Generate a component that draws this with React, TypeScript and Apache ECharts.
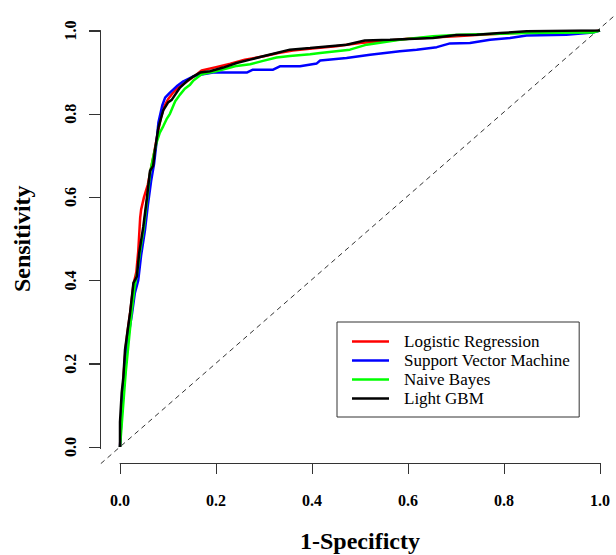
import React, { useEffect, useRef } from "react";
import * as echarts from "echarts";

const seriesNames = ["Logistic Regression", "Support Vector Machine", "Naive Bayes", "Light GBM"];
const seriesColors = ["#ff0000", "#0000ff", "#00ff00", "#000000"];
const tickValues = [0, 0.2, 0.4, 0.6, 0.8, 1.0];
const xTitle = "1-Specificty";
const yTitle = "Sensitivity";

const lrPoints: number[][] = [
  [0, 0], [0.004, 0.1], [0.008, 0.18], [0.012, 0.24], [0.016, 0.28], [0.022, 0.33], [0.028, 0.39],
  [0.034, 0.42], [0.038, 0.47], [0.042, 0.55], [0.044, 0.57], [0.05, 0.6], [0.058, 0.63], [0.063, 0.66],
  [0.07, 0.7], [0.078, 0.75], [0.085, 0.79], [0.093, 0.82], [0.1, 0.835], [0.11, 0.85], [0.118, 0.86],
  [0.13, 0.87], [0.14, 0.878], [0.155, 0.89], [0.17, 0.904], [0.2, 0.912], [0.23, 0.92], [0.26, 0.93],
  [0.3, 0.938], [0.33, 0.946], [0.36, 0.952], [0.4, 0.957], [0.45, 0.962], [0.5, 0.97], [0.55, 0.975],
  [0.6, 0.98], [0.65, 0.983], [0.7, 0.986], [0.75, 0.99], [0.8, 0.993], [0.85, 0.995], [0.9, 0.996],
  [0.95, 0.998], [0.99, 0.998], [1, 1],
];

const svmPoints: number[][] = [
  [0, 0], [0.002, 0.05], [0.006, 0.12], [0.01, 0.17], [0.014, 0.23], [0.018, 0.27], [0.025, 0.32],
  [0.031, 0.37], [0.038, 0.4], [0.044, 0.46], [0.052, 0.52], [0.058, 0.58], [0.065, 0.64], [0.071, 0.68],
  [0.076, 0.73], [0.08, 0.779], [0.088, 0.82], [0.094, 0.839], [0.104, 0.851], [0.118, 0.866],
  [0.132, 0.878], [0.153, 0.89], [0.167, 0.894], [0.194, 0.899], [0.264, 0.899], [0.277, 0.906],
  [0.319, 0.906], [0.333, 0.914], [0.375, 0.914], [0.41, 0.921], [0.417, 0.928], [0.472, 0.934],
  [0.521, 0.942], [0.583, 0.95], [0.618, 0.954], [0.66, 0.96], [0.6875, 0.969], [0.729, 0.97],
  [0.771, 0.978], [0.8125, 0.982], [0.847, 0.988], [0.93, 0.99], [0.985, 0.995], [1, 1],
];

const nbPoints: number[][] = [
  [0, 0], [0.004, 0.06], [0.008, 0.12], [0.012, 0.18], [0.018, 0.25], [0.024, 0.32], [0.03, 0.38],
  [0.036, 0.42], [0.042, 0.47], [0.05, 0.53], [0.057, 0.6], [0.063, 0.66], [0.07, 0.7], [0.076, 0.73],
  [0.083, 0.755], [0.09, 0.77], [0.097, 0.787], [0.104, 0.8], [0.115, 0.83], [0.125, 0.846],
  [0.135, 0.86], [0.146, 0.87], [0.153, 0.88], [0.17, 0.895], [0.2, 0.902], [0.23, 0.911],
  [0.243, 0.915], [0.271, 0.919], [0.298, 0.927], [0.326, 0.935], [0.354, 0.939], [0.396, 0.943],
  [0.417, 0.946], [0.479, 0.954], [0.514, 0.966], [0.583, 0.978], [0.652, 0.986], [0.708, 0.99],
  [0.847, 0.994], [0.985, 0.995], [1, 1],
];

const lgbmPoints: number[][] = [
  [0, 0], [0, 0.06], [0.0035, 0.13], [0.007, 0.168], [0.0104, 0.233], [0.014, 0.264], [0.021, 0.322],
  [0.028, 0.394], [0.035, 0.409], [0.04, 0.466], [0.0485, 0.529], [0.0556, 0.594], [0.0625, 0.663],
  [0.069, 0.675], [0.073, 0.714], [0.08, 0.767], [0.09, 0.808], [0.1, 0.827], [0.108, 0.834],
  [0.115, 0.846], [0.125, 0.863], [0.139, 0.878], [0.153, 0.89], [0.167, 0.899], [0.1875, 0.902],
  [0.215, 0.911], [0.243, 0.922], [0.271, 0.93], [0.298, 0.938], [0.326, 0.946], [0.354, 0.954],
  [0.396, 0.958], [0.472, 0.966], [0.51, 0.976], [0.5625, 0.978], [0.652, 0.982], [0.701, 0.989],
  [0.743, 0.99], [0.792, 0.994], [0.847, 0.998], [0.96, 1.0], [1, 1],
];

const referenceLine: number[][] = [[-0.04, -0.04], [1.04, 1.04]];

const FONT = "Liberation Serif, Times New Roman, serif";
const AXIS_COLOR = "#333333";

const W = 616;
const H = 555;
const LEFT = 120;
const RIGHT = 16;
const TOP = 30.5;
const BOTTOM = 108;
const PW = W - LEFT - RIGHT;
const PH = H - TOP - BOTTOM;
const X_OFF = 16;
const Y_OFF = 20;
const TICK = 11;

export default function App() {
  const ref = useRef<HTMLDivElement>(null);
  useEffect(() => {
    document.body.style.margin = "0";
    if (!ref.current) return;
    const chart = echarts.init(ref.current, undefined, { renderer: "svg" });
    const curves = [lrPoints, svmPoints, nbPoints, lgbmPoints];

    // R-style detached axes (decoration), placed from the grid geometry
    const xLineY = Math.round(TOP + PH + X_OFF);
    const yLineX = LEFT - Y_OFF;
    const axisFill = { fill: AXIS_COLOR };
    const axisRects: any[] = [
      { type: "rect", silent: true, shape: { x: LEFT, y: xLineY, width: PW + 1, height: 1 }, style: axisFill },
      { type: "rect", silent: true, shape: { x: yLineX, y: Math.round(TOP), width: 1, height: Math.round(PH) + 1 }, style: axisFill },
    ];
    tickValues.forEach((v) => {
      const px = Math.round(LEFT + v * PW);
      const py = Math.round(TOP + (1 - v) * PH);
      axisRects.push({ type: "rect", silent: true, shape: { x: px, y: xLineY, width: 1, height: TICK }, style: axisFill });
      axisRects.push({ type: "rect", silent: true, shape: { x: yLineX - TICK, y: py, width: TICK, height: 1 }, style: axisFill });
    });
    const titles: any[] = [
      {
        type: "text",
        x: LEFT + PW / 2,
        y: 541,
        style: { text: xTitle, fontFamily: FONT, fontWeight: "bold", fontSize: 24, fill: "#000", align: "center", verticalAlign: "middle" },
      },
      {
        type: "text",
        x: 22,
        y: TOP + PH / 2,
        rotation: Math.PI / 2,
        style: { text: yTitle, fontFamily: FONT, fontWeight: "bold", fontSize: 24, fill: "#000", align: "center", verticalAlign: "middle" },
      },
    ];

    chart.setOption({
      animation: false,
      grid: [
        { left: LEFT, right: RIGHT, top: TOP, bottom: BOTTOM },
        { left: 100.8, right: -3.2, top: 14.36, bottom: 91.36 },
      ],
      xAxis: [
        {
          type: "value",
          gridIndex: 0,
          min: 0,
          max: 1,
          interval: 0.2,
          offset: X_OFF,
          splitLine: { show: false },
          axisLine: { show: true, onZero: false, lineStyle: { color: AXIS_COLOR, width: 1 } },
          axisTick: { show: true, length: TICK, lineStyle: { color: AXIS_COLOR, width: 1 } },
          axisLabel: {
            margin: 29,
            fontFamily: FONT,
            fontWeight: "bold",
            fontSize: 16,
            color: "#000",
            formatter: (v: number) => v.toFixed(1),
          },
        },
        { type: "value", gridIndex: 1, min: -0.04, max: 1.04, show: false },
      ],
      yAxis: [
        {
          type: "value",
          gridIndex: 0,
          min: 0,
          max: 1,
          interval: 0.2,
          offset: Y_OFF,
          splitLine: { show: false },
          axisLine: { show: true, onZero: false, lineStyle: { color: AXIS_COLOR, width: 1 } },
          axisTick: { show: true, length: TICK, lineStyle: { color: AXIS_COLOR, width: 1 } },
          axisLabel: {
            margin: 22,
            rotate: 90,
            fontFamily: FONT,
            fontWeight: "bold",
            fontSize: 16,
            color: "#000",
            formatter: (v: number) => v.toFixed(1),
          },
        },
        { type: "value", gridIndex: 1, min: -0.04, max: 1.04, show: false },
      ],
      legend: {
        orient: "vertical",
        left: 337,
        top: 322,
        padding: [10, 9, 9, 15],
        borderColor: AXIS_COLOR,
        borderWidth: 1,
        itemWidth: 37,
        itemHeight: 14,
        itemGap: 0,
        icon: "path://M0,6 L37,6 L37,8.4 L0,8.4 Z",
        data: seriesNames,
        textStyle: { fontFamily: FONT, fontSize: 17, color: "#000", lineHeight: 19, padding: [0, 0, 0, 10] },
      },
      graphic: [...axisRects, ...titles],
      series: [
        {
          name: "reference",
          type: "line",
          xAxisIndex: 1,
          yAxisIndex: 1,
          data: referenceLine,
          symbol: "none",
          lineStyle: { color: AXIS_COLOR, width: 1, type: [5, 4] },
        },
        ...curves.map((pts, i) => ({
          name: seriesNames[i],
          type: "line",
          xAxisIndex: 0,
          yAxisIndex: 0,
          data: pts,
          symbol: "none",
          itemStyle: { color: seriesColors[i] },
          lineStyle: { color: seriesColors[i], width: 2.5 },
        })),
      ],
    });
    return () => chart.dispose();
  }, []);
  return <div ref={ref} style={{ width: W, height: H }} />;
}
